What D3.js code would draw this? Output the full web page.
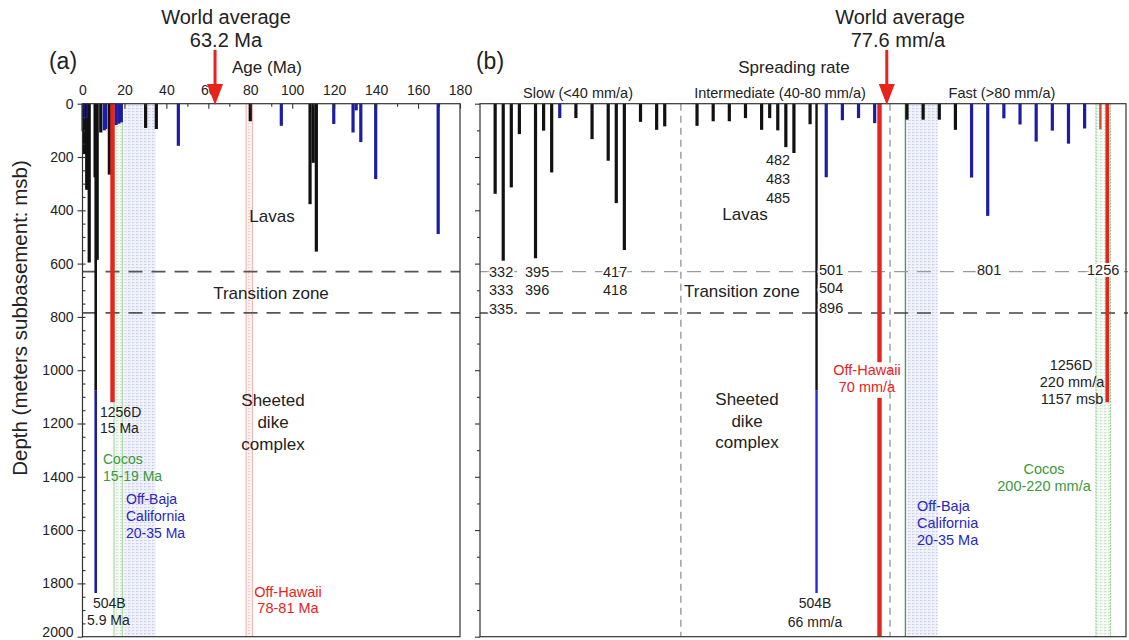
<!DOCTYPE html>
<html>
<head>
<meta charset="utf-8">
<script src="https://cdn.jsdelivr.net/npm/d3@7"></script>
<style>
  body { margin: 0; background: #fff; }
  svg text { font-family: "Liberation Sans", Arial, sans-serif; fill: #222; }
</style>
</head>
<body>
<script>
//Data - panel (a): hole depth vs crustal age
    const ageTicks = [0, 20, 40, 60, 80, 100, 120, 140, 160, 180];
    const depthTicks = [0, 200, 400, 600, 800, 1000, 1200, 1400, 1600, 1800, 2000];
    const ageMa    = [0.3, 0.6, 1.0, 1.6, 2.0, 2.6, 3.2, 6.0, 7.0, 8.7, 10.4, 11.1, 12.8, 16.0, 17.3, 18.5, 30.1, 35.2, 45.7, 80.0, 94.8, 108.5, 110.0, 111.5, 119.8, 129.0, 130.5, 132.7, 139.8, 169.6];
    const ageDepth = [104, 60, 189, 60, 323, 55, 596, 276, 586, 108, 100, 95, 266, 80, 75, 70, 91, 95, 158, 66, 83, 377, 222, 555, 76, 108, 25, 144, 283, 489];
    const ageColor = ["k","b","k","b","k","b","k","k","k","k","b","b","k","b","b","b","k","k","b","k","b","k","k","k","b","b","b","b","b","b"];
    const ageAverage = 63.2;

//Data - panel (b): hole depth ordered by spreading rate
    const rateOrder = [2, 3, 4, 5, 7, 8, 9, 10, 12, 14, 16, 17, 18, 20, 22, 23, 27, 29, 31, 33, 35, 36, 37, 38, 39, 41, 43, 45, 47, 49, 53, 55, 57, 59, 61, 63, 65, 67, 69, 71, 73, 75, 77];
    const rateDepth = [338, 589, 314, 114, 580, 101, 258, 54, 54, 133, 214, 373, 549, 68, 98, 85, 83, 66, 66, 54, 98, 54, 100, 163, 185, 77, 276, 62, 54, 73, 60, 60, 60, 98, 277, 421, 55, 78, 142, 101, 150, 93, 96];
    const rateColor = ["k","k","k","k","k","k","k","b",
                       "k","k","k","k","k","k","k","k","k","k","k","k","k","k","k","k","k","k",
                       "b","b","b","b","k","k","k","k","b","b","b","b","b","b","b","b","r"];
    const rateAverageOrder = 50.5;      // 77.6 mm/a
    const rateBoundaries = [25, 50.9];   // 40 and 80 mm/a

//Data - deep holes and zones
    const zoneDepths = [630, 785];            // top / base of transition zone
    const hole504B = {age: 6.3, order: 41.8, lavaBase: 1075, bottom: 1836};
    const hole1256D = {age: 14.3, order: 77.8, bottom: 1120};
    const hawaiiB = {order: 49.6, gapTop: 970, gapBottom: 1104};
    const bandsA = {cocos: [15, 19], baja: [20, 35], hawaii: [78, 81]};
    const bandsB = {baja: [52.8, 56.8], cocos: [76.4, 78.2]};

//Consts
    const width = 1129, height = 640;
    const plotTop = 103.7, plotBottom = 636.7;
    const colors = {k: "#111", b: "#1c1ca6", r: "#e8231c"};
    const red = "#e8231c", green = "#3a9a3a", blueText = "#2727bd";

//Scales
    const yScale = d3.scaleLinear().domain([0, 2000]).range([plotTop, plotBottom]);
    const xA = d3.scaleLinear().domain([0, 180]).range([82.5, 460]);
    const xB = d3.scaleLinear().domain([0, 80]).range([479, 1125]);
    const leftB = 480, rightB = 1126;

//SVG
    const svg = d3.select("body").append("svg")
                  .attr("width", width)
                  .attr("height", height);
    const defs = svg.append("defs");

    function gridPattern(id, fill, line) {
        const p = defs.append("pattern").attr("id", id)
                      .attr("patternUnits", "userSpaceOnUse")
                      .attr("width", 4).attr("height", 3);
        p.append("rect").attr("width", 4).attr("height", 3).attr("fill", fill);
        p.append("line").attr("x1", 0).attr("x2", 2.5).attr("y1", 0.5).attr("y2", 0.5)
         .attr("stroke", line).attr("stroke-width", 0.7);
        p.append("line").attr("x1", 0.5).attr("x2", 0.5).attr("y1", 0).attr("y2", 1.5)
         .attr("stroke", line).attr("stroke-width", 0.5);
    }
    gridPattern("gBlue", "#f1f2fb", "#c3c8e6");
    gridPattern("gGreen", "#f6fbf5", "#c9dcc6");
    gridPattern("gPink", "#fff6f6", "#f2c2c2");

//Bands
    function band(x, range, pat, edge, dash) {
        svg.append("rect")
           .attr("x", x(range[0])).attr("y", plotTop)
           .attr("width", x(range[1]) - x(range[0])).attr("height", plotBottom - plotTop)
           .attr("fill", "url(#" + pat + ")");
        if (edge) {
            range.forEach(v => {
                svg.append("line").attr("x1", x(v)).attr("x2", x(v))
                   .attr("y1", plotTop).attr("y2", plotBottom)
                   .attr("stroke", edge).attr("stroke-width", 0.9)
                   .attr("stroke-dasharray", dash || null);
            });
        }
    }
    band(xA, bandsA.baja, "gBlue", null);
    band(xA, bandsA.cocos, "gGreen", "#8fcf8f");
    band(xA, bandsA.hawaii, "gPink", "#f4a5a5");
    band(xB, bandsB.baja, "gBlue", null);
    band(xB, bandsB.cocos, "gGreen", "#7cc47c", "2,1");
    svg.append("line").attr("x1", xB(bandsB.baja[0])).attr("x2", xB(bandsB.baja[0]))
       .attr("y1", plotTop).attr("y2", plotBottom).attr("stroke", green).attr("stroke-width", 1.2);

//Transition zone dashed lines
    zoneDepths.forEach((d, i) => {
        svg.append("line").attr("x1", xA(0)).attr("x2", xA(180))
           .attr("y1", yScale(d)).attr("y2", yScale(d))
           .attr("stroke", "#555").attr("stroke-width", 1.8).attr("stroke-dasharray", "14,9");
        svg.append("line").attr("x1", leftB).attr("x2", rightB + 2)
           .attr("y1", yScale(d)).attr("y2", yScale(d))
           .attr("stroke", i === 0 ? "#9a9a9a" : "#444")
           .attr("stroke-width", i === 0 ? 1.2 : 1.5).attr("stroke-dasharray", "14,9");
    });

//Spreading rate boundaries
    svg.selectAll(".bound")
       .data(rateBoundaries)
       .enter()
       .append("line")
       .attr("x1", d => xB(d)).attr("x2", d => xB(d))
       .attr("y1", plotTop).attr("y2", plotBottom)
       .attr("stroke", "#8a8a8a").attr("stroke-width", 1.2).attr("stroke-dasharray", "7,5");

//Bars - panel (a)
    const barsA = ageMa.map((a, i) => ({age: a, depth: ageDepth[i], c: ageColor[i]}));
    svg.selectAll(".barA")
       .data(barsA)
       .enter()
       .append("rect")
       .attr("x", d => xA(d.age) - 1.6)
       .attr("y", yScale(0))
       .attr("width", 3.2)
       .attr("height", d => yScale(d.depth) - yScale(0))
       .attr("fill", d => colors[d.c]);

    // 504B: lavas + dikes (black), deeper dikes (blue)
    svg.append("rect").attr("x", xA(hole504B.age) - 1.3).attr("y", yScale(0))
       .attr("width", 2.6).attr("height", yScale(hole504B.lavaBase) - yScale(0)).attr("fill", colors.k);
    svg.append("rect").attr("x", xA(hole504B.age) - 1.3).attr("y", yScale(hole504B.lavaBase))
       .attr("width", 2.6).attr("height", yScale(hole504B.bottom) - yScale(hole504B.lavaBase)).attr("fill", colors.b);
    svg.append("rect").attr("x", xA(hole1256D.age) - 2.2).attr("y", yScale(0))
       .attr("width", 4.4).attr("height", yScale(hole1256D.bottom) - yScale(0)).attr("fill", red);

//Bars - panel (b)
    const barsB = rateOrder.map((o, i) => ({o: o, depth: rateDepth[i], c: rateColor[i]}));
    svg.selectAll(".barB")
       .data(barsB)
       .enter()
       .append("rect")
       .attr("x", d => xB(d.o) - 1.6)
       .attr("y", yScale(0))
       .attr("width", d => d.c === "r" ? 2.4 : 3.2)
       .attr("height", d => yScale(d.depth) - yScale(0))
       .attr("fill", d => d.c === "r" ? "#c9503c" : colors[d.c]);

    svg.append("rect").attr("x", xB(hole504B.order) - 1.2).attr("y", yScale(0))
       .attr("width", 2.4).attr("height", yScale(hole504B.lavaBase) - yScale(0)).attr("fill", colors.k);
    svg.append("rect").attr("x", xB(hole504B.order) - 1.2).attr("y", yScale(hole504B.lavaBase))
       .attr("width", 2.4).attr("height", yScale(hole504B.bottom) - yScale(hole504B.lavaBase)).attr("fill", "#2a2ad0");
    svg.append("rect").attr("x", xB(hole1256D.order) - 1.8).attr("y", yScale(0))
       .attr("width", 3.6).attr("height", yScale(hole1256D.bottom) - yScale(0)).attr("fill", red);
    svg.append("rect").attr("x", xB(hawaiiB.order) - 2.2).attr("y", yScale(0))
       .attr("width", 4.4).attr("height", yScale(hawaiiB.gapTop) - yScale(0)).attr("fill", red);
    svg.append("rect").attr("x", xB(hawaiiB.order) - 2.2).attr("y", yScale(hawaiiB.gapBottom))
       .attr("width", 4.4).attr("height", yScale(2000) - yScale(hawaiiB.gapBottom)).attr("fill", red);

//Frames
    svg.append("rect").attr("x", xA(0)).attr("y", plotTop)
       .attr("width", xA(180) - xA(0)).attr("height", plotBottom - plotTop)
       .attr("fill", "none").attr("stroke", "#333").attr("stroke-width", 1.2);
    svg.append("rect").attr("x", leftB).attr("y", plotTop)
       .attr("width", rightB - leftB).attr("height", plotBottom - plotTop)
       .attr("fill", "none").attr("stroke", "#333").attr("stroke-width", 1.2);

//Axes
    const topAxis = d3.axisTop(xA).tickValues(ageTicks).tickSize(-5).tickPadding(9);
    const topMinor = d3.axisTop(xA).tickValues(d3.range(10, 180, 20)).tickSize(-3).tickFormat("");
    const leftAxis = d3.axisLeft(yScale).tickValues(depthTicks).tickSize(5).tickPadding(4)
                       .tickFormat(d3.format("d"));
    const leftMinor = d3.axisLeft(yScale).tickValues(d3.range(50, 2000, 50)).tickSize(-3).tickFormat("");
    const leftB200 = d3.axisLeft(yScale).tickValues(depthTicks).tickSize(5).tickFormat("");
    const leftB100 = d3.axisLeft(yScale).tickValues(d3.range(100, 2000, 200)).tickSize(3).tickFormat("");

    function styleAxis(g) {
        g.select(".domain").remove();
        g.selectAll("line").attr("stroke", "#333").attr("stroke-width", 1.1);
        g.selectAll("text").attr("font-size", 14).style("fill", "#222");
    }
    svg.append("g").attr("transform", "translate(0," + plotTop + ")").call(topAxis).call(styleAxis);
    svg.append("g").attr("transform", "translate(0," + plotTop + ")").call(topMinor).call(styleAxis);
    const gLeft = svg.append("g").attr("transform", "translate(" + xA(0) + ",0)").call(leftAxis).call(styleAxis);
    // keep the bottom label inside the picture
    gLeft.selectAll(".tick text").filter(d => d === 2000).attr("dy", "-0.05em");
    svg.append("g").attr("transform", "translate(" + xA(0) + ",0)").call(leftMinor).call(styleAxis);
    svg.append("g").attr("transform", "translate(" + leftB + ",0)").call(leftB200).call(styleAxis);
    svg.append("g").attr("transform", "translate(" + leftB + ",0)").call(leftB100).call(styleAxis);

//World average arrows
    function arrow(x) {
        svg.append("line").attr("x1", x).attr("x2", x).attr("y1", 50).attr("y2", 86)
           .attr("stroke", red).attr("stroke-width", 3);
        svg.append("path")
           .attr("d", `M${x - 8},84 L${x + 8},84 L${x},105 Z`)
           .attr("fill", red);
    }
    arrow(xA(ageAverage));
    arrow(xB(rateAverageOrder));

//Text
    function txt(x, y, s, size, opts) {
        const o = opts || {};
        const t = svg.append("text").attr("x", x).attr("y", y)
                     .attr("font-size", size)
                     .attr("text-anchor", o.anchor || "middle")
                     .text(s);
        if (o.color) t.style("fill", o.color);
        if (o.halo) t.attr("stroke", "#fff").attr("stroke-width", 4).attr("paint-order", "stroke");
        return t;
    }
    // titles
    txt(63, 69, "(a)", 23);
    txt(490, 69, "(b)", 23);
    txt(226, 24, "World average", 20);
    txt(226, 47, "63.2 Ma", 20);
    txt(900, 24, "World average", 20);
    txt(898, 47, "77.6 mm/a", 20);
    txt(267, 73, "Age (Ma)", 17);
    txt(794, 73, "Spreading rate", 17);
    txt(578, 98, "Slow (<40 mm/a)", 14.5);
    txt(780, 98, "Intermediate (40-80 mm/a)", 14.5);
    txt(1002, 98, "Fast (>80 mm/a)", 14.5);

    // y label
    svg.append("text")
       .attr("transform", "translate(27,318) rotate(-90)")
       .attr("text-anchor", "middle")
       .attr("font-size", 20.5)
       .text("Depth (meters subbasement: msb)");

    // panel (a) zones
    txt(272, 222, "Lavas", 17);
    txt(271, 299, "Transition zone", 17);
    txt(273, 406, "Sheeted", 17);
    txt(273, 428, "dike", 17);
    txt(273, 450, "complex", 17);
    txt(100, 417, "1256D", 14, {anchor: "start"});
    txt(100, 433, "15 Ma", 14, {anchor: "start"});
    txt(103, 464, "Cocos", 14, {anchor: "start", color: green});
    txt(103, 481, "15-19 Ma", 14, {anchor: "start", color: green});
    txt(126, 504, "Off-Baja", 14, {anchor: "start", color: blueText});
    txt(126, 521, "California", 14, {anchor: "start", color: blueText});
    txt(126, 538, "20-35 Ma", 14, {anchor: "start", color: blueText});
    txt(93, 608, "504B", 14, {anchor: "start"});
    txt(87, 625, "5.9 Ma", 14, {anchor: "start"});
    txt(288, 597, "Off-Hawaii", 14.5, {color: red});
    txt(288, 613, "78-81 Ma", 14.5, {color: red});

    // panel (b) zones
    txt(778, 165, "482", 14.5);
    txt(778, 184, "483", 14.5);
    txt(778, 203, "485", 14.5);
    txt(745, 220, "Lavas", 17);
    txt(684, 297, "Transition zone", 17, {anchor: "start"});
    txt(747, 405, "Sheeted", 17);
    txt(747, 427, "dike", 17);
    txt(747, 448, "complex", 17);
    [["332", 489, 277], ["333", 489, 295], ["335", 489, 314],
     ["395", 525, 277], ["396", 525, 295],
     ["417", 603, 277], ["418", 603, 295],
     ["501", 819, 275], ["504", 819, 293], ["896", 819, 313],
     ["801", 977, 275], ["1256", 1087, 275]]
        .forEach(l => txt(l[1], l[2], l[0], 14.5, {anchor: "start", halo: true}));
    txt(815, 608, "504B", 14);
    txt(815, 627, "66 mm/a", 14);
    txt(867, 375, "Off-Hawaii", 14.5, {color: red});
    txt(867, 392, "70 mm/a", 14.5, {color: red});
    txt(1071, 370, "1256D", 14.5);
    txt(1072, 387, "220 mm/a", 14.5);
    txt(1072, 404, "1157 msb", 14.5);
    txt(1044, 474, "Cocos", 14.5, {color: green});
    txt(1044, 491, "200-220 mm/a", 14.5, {color: green});
    txt(917, 511, "Off-Baja", 14.5, {anchor: "start", color: blueText});
    txt(917, 528, "California", 14.5, {anchor: "start", color: blueText});
    txt(917, 545, "20-35 Ma", 14.5, {anchor: "start", color: blueText});
</script>
</body>
</html>
